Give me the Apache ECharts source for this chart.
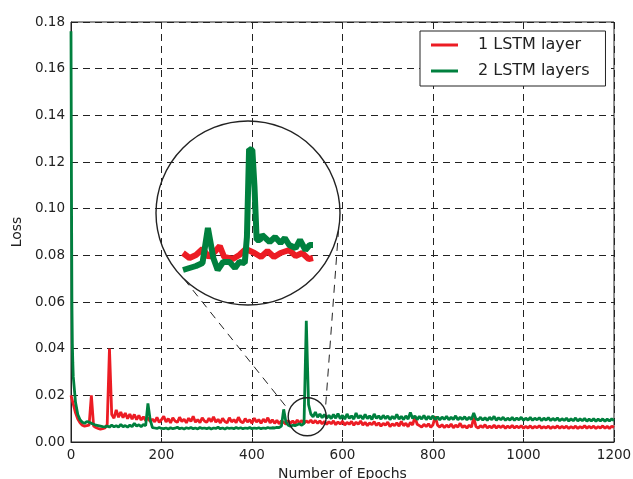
<!DOCTYPE html>
<html>
<head>
<meta charset="utf-8">
<script src="https://cdn.jsdelivr.net/npm/echarts@6/dist/echarts.min.js"></script>
<style>
  html, body { margin: 0; padding: 0; background: #fff; }
  #chart-container { width: 633px; height: 479px; }
</style>
</head>
<body>
<div id="chart-container"></div>
<script>
const FONT = "DejaVu Sans"
const RED = "#ec1c24"
const GREEN = "#00803e"

// epochs sampled along the x axis
const epochs = [
  0, 1, 2, 3, 4,
  5, 10, 15, 20, 25, 30, 35, 40, 45, 50, 55, 60, 65, 70, 75,
  80, 85, 90, 95, 100, 105, 110, 115, 120, 125, 130, 135, 140, 145, 150, 155, 160, 165, 170, 175,
  180, 185, 190, 195, 200, 205, 210, 215, 220, 225, 230, 235, 240, 245, 250, 255, 260, 265, 270, 275,
  280, 285, 290, 295, 300, 305, 310, 315, 320, 325, 330, 335, 340, 345, 350, 355, 360, 365, 370, 375,
  380, 385, 390, 395, 400, 405, 410, 415, 420, 425, 430, 435, 440, 445, 450, 455, 460, 465, 470, 475,
  480, 485, 490, 495, 500, 505, 510, 515, 520, 525, 530, 535, 540, 545, 550, 555, 560, 565, 570, 575,
  580, 585, 590, 595, 600, 605, 610, 615, 620, 625, 630, 635, 640, 645, 650, 655, 660, 665, 670, 675,
  680, 685, 690, 695, 700, 705, 710, 715, 720, 725, 730, 735, 740, 745, 750, 755, 760, 765, 770, 775,
  780, 785, 790, 795, 800, 805, 810, 815, 820, 825, 830, 835, 840, 845, 850, 855, 860, 865, 870, 875,
  880, 885, 890, 895, 900, 905, 910, 915, 920, 925, 930, 935, 940, 945, 950, 955, 960, 965, 970, 975,
  980, 985, 990, 995, 1000, 1005, 1010, 1015, 1020, 1025, 1030, 1035, 1040, 1045, 1050, 1055, 1060, 1065, 1070, 1075,
  1080, 1085, 1090, 1095, 1100, 1105, 1110, 1115, 1120, 1125, 1130, 1135, 1140, 1145, 1150, 1155, 1160, 1165, 1170, 1175,
  1180, 1185, 1190, 1195, 1200
]

const lossOneLayer = [
  0.0200, 0.0192, 0.0185, 0.0178, 0.0170,
  0.0162, 0.0125, 0.0098, 0.0082, 0.0072, 0.0068, 0.0070, 0.0072, 0.0200, 0.0068, 0.0062, 0.0058, 0.0055, 0.0057, 0.0060,
  0.0075, 0.0400, 0.0118, 0.0102, 0.0138, 0.0106, 0.0128, 0.0104, 0.0124, 0.0100, 0.0120, 0.0098, 0.0118, 0.0096, 0.0114, 0.0094, 0.0108, 0.0092, 0.0104, 0.0088,
  0.0098, 0.0086, 0.0106, 0.0084, 0.0096, 0.0110, 0.0086, 0.0100, 0.0082, 0.0104, 0.0090, 0.0084, 0.0106, 0.0088, 0.0098, 0.0082, 0.0102, 0.0088, 0.0110, 0.0085,
  0.0096, 0.0083, 0.0104, 0.0090, 0.0084, 0.0102, 0.0087, 0.0108, 0.0085, 0.0097, 0.0082, 0.0101, 0.0088, 0.0082, 0.0104, 0.0086, 0.0096, 0.0083, 0.0106, 0.0088,
  0.0082, 0.0100, 0.0086, 0.0095, 0.0081, 0.0102, 0.0086, 0.0096, 0.0080, 0.0098, 0.0085, 0.0104, 0.0082, 0.0095, 0.0080, 0.0093, 0.0078, 0.0091, 0.0084, 0.0076,
  0.0092, 0.0080, 0.0090, 0.0078, 0.0094, 0.0082, 0.0092, 0.0080, 0.0090, 0.0083, 0.0094, 0.0081, 0.0092, 0.0080, 0.0090, 0.0078, 0.0088, 0.0076, 0.0087, 0.0078,
  0.0090, 0.0074, 0.0086, 0.0077, 0.0089, 0.0073, 0.0084, 0.0076, 0.0088, 0.0072, 0.0085, 0.0076, 0.0090, 0.0073, 0.0084, 0.0070, 0.0082, 0.0074, 0.0087, 0.0071,
  0.0082, 0.0068, 0.0080, 0.0072, 0.0085, 0.0066, 0.0078, 0.0070, 0.0082, 0.0068, 0.0088, 0.0070, 0.0080, 0.0066, 0.0084, 0.0073, 0.0108, 0.0076, 0.0070, 0.0064,
  0.0076, 0.0066, 0.0078, 0.0063, 0.0074, 0.0110, 0.0072, 0.0064, 0.0074, 0.0062, 0.0072, 0.0064, 0.0077, 0.0061, 0.0072, 0.0064, 0.0080, 0.0062, 0.0070, 0.0060,
  0.0072, 0.0063, 0.0105, 0.0066, 0.0060, 0.0070, 0.0062, 0.0074, 0.0060, 0.0068, 0.0061, 0.0072, 0.0060, 0.0069, 0.0062, 0.0070, 0.0059, 0.0068, 0.0061, 0.0071,
  0.0060, 0.0068, 0.0061, 0.0070, 0.0059, 0.0067, 0.0060, 0.0069, 0.0059, 0.0067, 0.0061, 0.0070, 0.0059, 0.0066, 0.0060, 0.0068, 0.0058, 0.0066, 0.0060, 0.0069,
  0.0059, 0.0067, 0.0060, 0.0068, 0.0058, 0.0066, 0.0059, 0.0068, 0.0058, 0.0066, 0.0060, 0.0070, 0.0059, 0.0067, 0.0060, 0.0068, 0.0058, 0.0066, 0.0060, 0.0069,
  0.0059, 0.0067, 0.0058, 0.0068, 0.0062
]

const lossTwoLayers = [
  0.1760, 0.1100, 0.0600, 0.0420, 0.0340,
  0.0280, 0.0170, 0.0118, 0.0095, 0.0085, 0.0080, 0.0088, 0.0085, 0.0080, 0.0076, 0.0072, 0.0070, 0.0068, 0.0066, 0.0065,
  0.0068, 0.0064, 0.0072, 0.0065, 0.0070, 0.0064, 0.0075, 0.0066, 0.0070, 0.0064, 0.0072, 0.0066, 0.0080, 0.0068, 0.0074, 0.0066, 0.0075, 0.0070, 0.0165, 0.0095,
  0.0062, 0.0060, 0.0058, 0.0062, 0.0058, 0.0057, 0.0060, 0.0056, 0.0061, 0.0057, 0.0059, 0.0063, 0.0057, 0.0060, 0.0056, 0.0061, 0.0058, 0.0062, 0.0057, 0.0060,
  0.0056, 0.0062, 0.0058, 0.0060, 0.0057, 0.0061, 0.0056, 0.0060, 0.0058, 0.0063, 0.0057, 0.0060, 0.0056, 0.0061, 0.0058, 0.0060, 0.0057, 0.0062, 0.0058, 0.0061,
  0.0057, 0.0060, 0.0058, 0.0062, 0.0057, 0.0060, 0.0058, 0.0061, 0.0057, 0.0060, 0.0058, 0.0062, 0.0059, 0.0061, 0.0060, 0.0063, 0.0062, 0.0068, 0.0140, 0.0085,
  0.0072, 0.0068, 0.0072, 0.0070, 0.0074, 0.0078, 0.0072, 0.0080, 0.0520, 0.0160, 0.0120, 0.0108, 0.0128, 0.0106, 0.0120, 0.0104, 0.0118, 0.0102, 0.0114, 0.0100,
  0.0118, 0.0102, 0.0122, 0.0100, 0.0114, 0.0098, 0.0120, 0.0101, 0.0112, 0.0098, 0.0124, 0.0102, 0.0114, 0.0098, 0.0118, 0.0100, 0.0112, 0.0097, 0.0120, 0.0101,
  0.0112, 0.0098, 0.0114, 0.0100, 0.0112, 0.0096, 0.0110, 0.0099, 0.0118, 0.0098, 0.0110, 0.0096, 0.0112, 0.0098, 0.0127, 0.0101, 0.0112, 0.0096, 0.0110, 0.0098,
  0.0114, 0.0096, 0.0110, 0.0098, 0.0112, 0.0096, 0.0108, 0.0095, 0.0107, 0.0097, 0.0110, 0.0095, 0.0106, 0.0097, 0.0112, 0.0095, 0.0106, 0.0097, 0.0108, 0.0095,
  0.0106, 0.0097, 0.0124, 0.0099, 0.0095, 0.0106, 0.0094, 0.0104, 0.0093, 0.0106, 0.0095, 0.0110, 0.0093, 0.0104, 0.0095, 0.0106, 0.0093, 0.0102, 0.0094, 0.0105,
  0.0093, 0.0103, 0.0095, 0.0106, 0.0093, 0.0102, 0.0094, 0.0105, 0.0093, 0.0102, 0.0095, 0.0104, 0.0092, 0.0102, 0.0094, 0.0104, 0.0092, 0.0101, 0.0093, 0.0103,
  0.0091, 0.0100, 0.0092, 0.0102, 0.0090, 0.0099, 0.0091, 0.0103, 0.0090, 0.0099, 0.0091, 0.0101, 0.0089, 0.0098, 0.0090, 0.0100, 0.0089, 0.0098, 0.0090, 0.0099,
  0.0089, 0.0098, 0.0090, 0.0099, 0.0092
]

// zoomed inset (epochs ~493-553)
const insetEpochsOne = [493, 496, 499, 502, 505, 508, 510, 512, 516, 519, 522, 526, 529, 532, 535, 538, 542, 545, 548, 551, 553]
const insetLossOne = [0.0087, 0.0082, 0.0085, 0.0091, 0.0083, 0.0089, 0.0094, 0.0083, 0.0081, 0.0085, 0.0091, 0.0087, 0.0083, 0.0089, 0.0083, 0.0087, 0.0090, 0.0084, 0.0087, 0.0081, 0.0082]
const insetEpochsTwo = [493, 496, 499, 502, 504.5, 507, 509, 511.5, 514.5, 517, 519, 521.5, 522.5, 523.5, 525, 526, 527, 528.5, 529.5, 531, 533, 535.5, 538, 540, 542, 545, 547, 549.5, 551.5, 553]
const insetLossTwo = [0.0070, 0.0072, 0.0074, 0.0077, 0.0112, 0.0082, 0.0070, 0.0078, 0.0078, 0.0072, 0.0078, 0.0077, 0.0103, 0.0191, 0.0190, 0.0153, 0.0100, 0.0100, 0.0105, 0.0102, 0.0098, 0.0103, 0.0097, 0.0102, 0.0095, 0.0092, 0.0100, 0.0090, 0.0095, 0.0095]

const zip = (xs, ys) => xs.map((x, i) => [x, ys[i]])

var dom = document.getElementById("chart-container")
var myChart = echarts.init(dom, null, { renderer: "canvas", width: 633, height: 479 })

const gridLine = {
  show: true,
  lineStyle: { color: "#222", width: 1, type: [7, 5] }
}

var option = {
  animation: false,
  backgroundColor: "#fff",
  textStyle: { fontFamily: FONT },
  legend: {
    orient: "vertical",
    left: 420,
    top: 31,
    padding: [6, 16, 7, 11],
    itemGap: 10,
    itemWidth: 27,
    itemHeight: 3,
    icon: "rect",
    borderColor: "#222",
    borderWidth: 1,
    backgroundColor: "#fff",
    textStyle: { fontFamily: FONT, fontSize: 16, color: "#222", padding: [0, 0, 0, 15] },
    data: ["1 LSTM layer", "2 LSTM layers"]
  },
  grid: [
    {
      left: 71, right: 19, top: 22, bottom: 37,
      outerBoundsMode: "none",
      show: true, borderColor: "#222", borderWidth: 1
    },
    { left: 183, top: 140, width: 130, height: 140, outerBoundsMode: "none" }
  ],
  xAxis: [
    {
      type: "value",
      gridIndex: 0,
      min: 0,
      max: 1200,
      interval: 200,
      name: "Number of Epochs",
      nameLocation: "middle",
      nameGap: 23,
      nameTextStyle: { fontFamily: FONT, fontSize: 14, color: "#222", verticalAlign: "top" },
      axisLine: { show: true, onZero: false, lineStyle: { color: "#222", width: 1 } },
      axisTick: { show: true, inside: true, length: 4, lineStyle: { color: "#222" } },
      axisLabel: {
        fontFamily: FONT, fontSize: 13.5, color: "#222", margin: 6,
        formatter: (v) => String(v)
      },
      splitLine: gridLine
    },
    {
      type: "value",
      gridIndex: 1,
      min: 493,
      max: 553,
      show: false
    }
  ],
  yAxis: [
    {
      type: "value",
      gridIndex: 0,
      min: 0,
      max: 0.18,
      interval: 0.02,
      name: "Loss",
      nameLocation: "middle",
      nameGap: 38,
      nameTextStyle: { fontFamily: FONT, fontSize: 14, color: "#222" },
      axisLine: { show: true, lineStyle: { color: "#222", width: 1 } },
      axisTick: { show: true, inside: true, length: 4, lineStyle: { color: "#222" } },
      axisLabel: {
        fontFamily: FONT, fontSize: 13.5, color: "#222", margin: 6,
        formatter: (v) => v.toFixed(2)
      },
      splitLine: gridLine
    },
    {
      type: "value",
      gridIndex: 1,
      min: 0.006,
      max: 0.020,
      show: false
    }
  ],
  series: [
    {
      name: "1 LSTM layer",
      type: "line",
      xAxisIndex: 0,
      yAxisIndex: 0,
      data: zip(epochs, lossOneLayer),
      showSymbol: false,
      color: RED,
      lineStyle: { color: RED, width: 2.8 },
      z: 3
    },
    {
      name: "2 LSTM layers",
      type: "line",
      xAxisIndex: 0,
      yAxisIndex: 0,
      data: zip(epochs, lossTwoLayers),
      showSymbol: false,
      color: GREEN,
      lineStyle: { color: GREEN, width: 2.8 },
      z: 4
    },
    {
      name: "1 LSTM layer",
      type: "line",
      xAxisIndex: 1,
      yAxisIndex: 1,
      data: zip(insetEpochsOne, insetLossOne),
      showSymbol: false,
      color: RED,
      lineStyle: { color: RED, width: 6 },
      z: 5
    },
    {
      name: "2 LSTM layers",
      type: "line",
      xAxisIndex: 1,
      yAxisIndex: 1,
      data: zip(insetEpochsTwo, insetLossTwo),
      showSymbol: false,
      color: GREEN,
      lineStyle: { color: GREEN, width: 6 },
      z: 6
    }
  ]
}

myChart.setOption(option)

/**
 * ============ Magnifier circles + connectors =============
 */
const big = { cx: 248, cy: 213, r: 92 }
const smallCenter = myChart.convertToPixel({ gridIndex: 0 }, [522, 0.0108])
const small = { cx: smallCenter[0], cy: smallCenter[1], r: 19 }

const onCircle = (c, deg) => {
  const a = (deg * Math.PI) / 180
  return [c.cx + c.r * Math.cos(a), c.cy + c.r * Math.sin(a)]
}

const connector = (degBig, degSmall) => {
  const p1 = onCircle(big, degBig)
  const p2 = onCircle(small, degSmall)
  return {
    type: "line",
    shape: { x1: p1[0], y1: p1[1], x2: p2[0], y2: p2[1] },
    style: { stroke: "#222", lineWidth: 1, lineDash: [8, 6] },
    z: 20
  }
}

const circleStyle = { fill: "none", stroke: "#222", lineWidth: 1.4 }

myChart.setOption({
  graphic: [
    { type: "circle", shape: { cx: big.cx, cy: big.cy, r: big.r }, style: circleStyle, z: 20 },
    { type: "circle", shape: { cx: small.cx, cy: small.cy, r: small.r }, style: circleStyle, z: 20 },
    connector(134, 199),
    connector(10, -18)
  ]
})

window.addEventListener("resize", myChart.resize)
</script>
</body>
</html>
